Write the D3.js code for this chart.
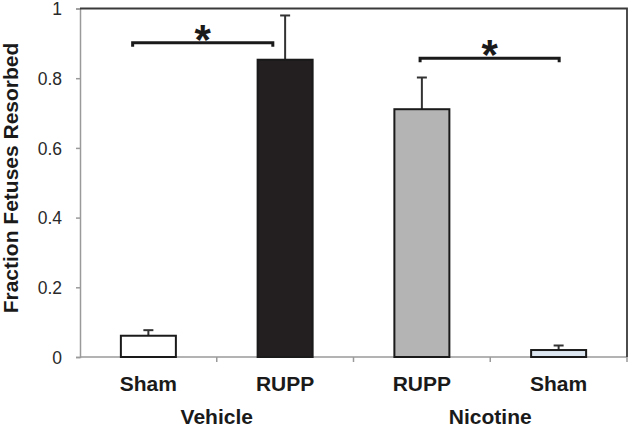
<!DOCTYPE html>
<html lang="en">
<head>
<meta charset="UTF-8">
<title>Fraction Fetuses Resorbed</title>
<script src="https://d3js.org/d3.v7.min.js"></script>
<style>
    body { margin: 0; background: #fff; }
    svg { display: block; font-family: Arial, "Liberation Sans", sans-serif; }
</style>
</head>
<body>
<svg width="630" height="428"></svg>

<script>
    // data
    const categories = ["Sham", "RUPP", "RUPP", "Sham"];
    const groups = ["Vehicle", "Nicotine"];
    const values = [0.061, 0.853, 0.711, 0.020];
    const errors = [0.016, 0.127, 0.091, 0.013];
    const fills = ["#ffffff", "#231f20", "#b4b4b5", "#dde7f1"];
    const yTicks = [0, 0.2, 0.4, 0.6, 0.8, 1];
    // significance brackets: from/to in category units, height in data units
    const brackets = [
        {from: 0.385, to: 1.41, level: 0.902},
        {from: 2.487, to: 3.504, level: 0.857}
    ];

    var svg = d3.select("svg");
    var plotLeft = 80, plotRight = 627, plotTop = 8.5, plotBottom = 357;

    var x = d3.scaleLinear().domain([0, categories.length]).range([plotLeft, plotRight]);
    var y = d3.scaleLinear().domain([0, 1]).range([plotBottom, plotTop]);
    var barW = 55;

    // y axis
    var yAxis = svg.append("g")
        .attr("transform", "translate(" + plotLeft + ",0)")
        .call(d3.axisLeft(y).tickValues(yTicks).tickSize(4).tickPadding(14)
            .tickFormat(d => d));
    yAxis.select(".domain").attr("stroke", "#9a9a9a").attr("stroke-width", 1.5);
    yAxis.selectAll(".tick line").attr("stroke", "#9a9a9a").attr("stroke-width", 1.5);
    yAxis.selectAll(".tick text")
        .attr("fill", "#2a2a2a")
        .style("font-size", "17.5px")
        .attr("dy", "0.35em");

    // x axis with ticks between categories
    svg.append("line")
        .attr("x1", plotLeft).attr("x2", plotRight)
        .attr("y1", plotBottom).attr("y2", plotBottom)
        .attr("stroke", "#9a9a9a").attr("stroke-width", 1.5);
    svg.selectAll(".xtick")
        .data(d3.range(1, categories.length + 1))
        .enter().append("line")
        .attr("class", "xtick")
        .attr("x1", d => x(d)).attr("x2", d => x(d))
        .attr("y1", plotBottom).attr("y2", plotBottom + 5)
        .attr("stroke", "#9a9a9a").attr("stroke-width", 1.5);

    // frame top and right
    svg.append("path")
        .attr("d", "M" + plotLeft + "," + plotTop + "H" + plotRight + "V" + plotBottom)
        .attr("fill", "none")
        .attr("stroke", "#3a3a3a")
        .attr("stroke-width", 1.8);

    // error bars (upper only)
    svg.selectAll(".err")
        .data(values)
        .enter().append("line")
        .attr("class", "err")
        .attr("x1", (d, i) => x(i + 0.5)).attr("x2", (d, i) => x(i + 0.5))
        .attr("y1", d => y(d)).attr("y2", (d, i) => y(d + errors[i]))
        .attr("stroke", "#333").attr("stroke-width", 2);
    svg.selectAll(".cap")
        .data(values)
        .enter().append("line")
        .attr("class", "cap")
        .attr("x1", (d, i) => x(i + 0.5) - 5).attr("x2", (d, i) => x(i + 0.5) + 5)
        .attr("y1", (d, i) => y(d + errors[i])).attr("y2", (d, i) => y(d + errors[i]))
        .attr("stroke", "#333").attr("stroke-width", 2);

    // bars
    svg.selectAll(".bar")
        .data(values)
        .enter().append("rect")
        .attr("class", "bar")
        .attr("x", (d, i) => x(i + 0.5) - barW / 2)
        .attr("y", d => y(d))
        .attr("width", barW)
        .attr("height", d => plotBottom - y(d))
        .attr("fill", (d, i) => fills[i])
        .attr("stroke", "#1a1a1a")
        .attr("stroke-width", 2);

    // significance brackets
    brackets.forEach(function(b) {
        var x1 = x(b.from), x2 = x(b.to), yy = y(b.level);
        svg.append("path")
            .attr("d", "M" + x1 + "," + (yy + 4) + "V" + yy + "H" + x2 + "V" + (yy + 4))
            .attr("fill", "none")
            .attr("stroke", "#1a1a1a")
            .attr("stroke-width", 3);
        svg.append("text")
            .attr("x", (x1 + x2) / 2)
            .attr("y", yy + 11)
            .attr("text-anchor", "middle")
            .style("font-size", "42px")
            .style("font-weight", "bold")
            .attr("fill", "#1a1a1a")
            .text("*");
    });

    // category labels
    svg.selectAll(".cat")
        .data(categories)
        .enter().append("text")
        .attr("class", "cat")
        .attr("x", (d, i) => x(i + 0.5))
        .attr("y", 391)
        .attr("text-anchor", "middle")
        .style("font-size", "21px")
        .style("font-weight", "bold")
        .attr("fill", "#1a1a1a")
        .text(d => d);

    // group labels
    svg.selectAll(".grp")
        .data(groups)
        .enter().append("text")
        .attr("class", "grp")
        .attr("x", (d, i) => x(i * 2 + 1))
        .attr("y", 424)
        .attr("text-anchor", "middle")
        .style("font-size", "21px")
        .style("font-weight", "bold")
        .attr("fill", "#1a1a1a")
        .text(d => d);

    // y title
    svg.append("text")
        .attr("transform", "rotate(-90)")
        .attr("x", -178)
        .attr("y", 18)
        .attr("text-anchor", "middle")
        .style("font-size", "21px")
        .style("font-weight", "bold")
        .attr("fill", "#1a1a1a")
        .text("Fraction Fetuses Resorbed");
</script>
</body>
</html>
